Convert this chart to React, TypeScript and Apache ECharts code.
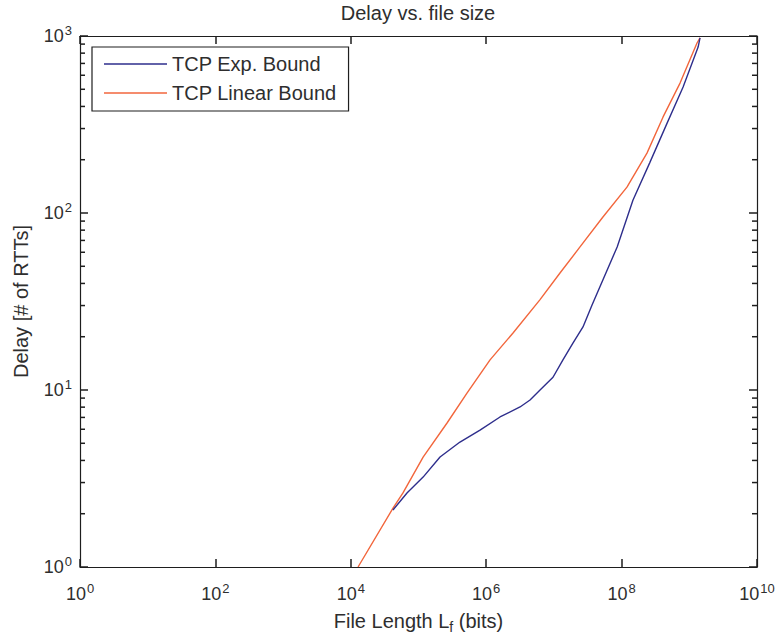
import React, { useEffect, useRef } from "react";
import * as echarts from "echarts";

const chartTitle = "Delay vs. file size";
const seriesNames = ["TCP Exp. Bound", "TCP Linear Bound"];

const expLength = [4.2e4, 6.76e4, 1.17e5, 2.08e5, 4.1e5, 8.1e5, 1.6e6, 3.16e6, 4.44e6, 6.24e6, 9.7e6, 1.36e7, 1.91e7, 2.69e7, 3.66e7, 8.6e7, 1.47e8, 2.6e8, 4.7e8, 8.1e8, 1.35e9, 1.44e9];
const expDelay = [2.1, 2.62, 3.22, 4.18, 5.08, 5.94, 7.04, 8.02, 8.78, 10.0, 11.8, 14.8, 18.4, 22.7, 30.2, 64.3, 118, 192, 322, 515, 866, 975];

const linLength = [1.28e4, 4.2e4, 5.9e4, 1.17e5, 2.64e5, 5.2e5, 1.14e6, 2.49e6, 6.2e6, 1.23e7, 2.43e7, 5.3e7, 1.2e8, 2.37e8, 4.1e8, 7.3e8, 1.3e9, 1.44e9];
const linDelay = [1.0, 2.15, 2.62, 4.18, 6.51, 9.6, 14.8, 21.0, 32.3, 45.8, 64.3, 94.9, 140, 218, 349, 542, 913, 975];

const xRange = [1, 1e10];
const yRange = [1, 1000];
const yMinorTicks = [2, 3, 4, 5, 6, 7, 8, 9, 20, 30, 40, 50, 60, 70, 80, 90, 200, 300, 400, 500, 600, 700, 800, 900];

const FONT = "'Liberation Sans', Arial, Helvetica, sans-serif";
const TEXT = "#2e2e2e";
const AXIS = "#1e1e1e";
const BLUE = "#2e2e8c";
const ORANGE = "#f2663c";

const powLabel = (v: number) => `{b|10}{s|${Math.round(Math.log10(v))}}`;
const labelRich = {
  b: { fontSize: 18, lineHeight: 24, fontFamily: FONT, color: TEXT },
  s: { fontSize: 13, lineHeight: 13, verticalAlign: "top", fontFamily: FONT, color: TEXT, padding: [0, 0, 2, 1] },
};

export default function App() {
  const ref = useRef<HTMLDivElement>(null);
  useEffect(() => {
    if (!ref.current) return;
    const chart = echarts.init(ref.current, undefined, { renderer: "svg" });
    const axisCommon = {
      axisLine: { show: true, lineStyle: { color: AXIS, width: 1.2 } },
      splitLine: { show: false },
      minorTick: { show: false },
    };
    const tick = { show: true, inside: true, length: 8, lineStyle: { color: AXIS, width: 1.5 } };
    const minorTickSeries = (xVal: number, offset: number) => ({
      type: "scatter",
      silent: true,
      clip: false,
      xAxisIndex: 0,
      yAxisIndex: 0,
      z: 5,
      symbol: "rect",
      symbolSize: [5, 1.5],
      symbolOffset: [offset, 0],
      itemStyle: { color: AXIS, opacity: 1 },
      data: yMinorTicks.map((v) => [xVal, v]),
    });
    chart.setOption({
      animation: false,
      backgroundColor: "#ffffff",
      title: {
        text: chartTitle,
        left: 418,
        top: 3,
        padding: 0,
        textAlign: "center",
        textStyle: { fontSize: 20, fontWeight: "normal", fontFamily: FONT, color: TEXT },
      },
      legend: {
        data: seriesNames,
        orient: "vertical",
        left: 92,
        top: 47,
        padding: [7, 12, 8, 12],
        itemGap: 9,
        itemWidth: 63,
        itemHeight: 1.5,
        icon: "rect",
        borderColor: AXIS,
        borderWidth: 1.2,
        borderRadius: 0,
        backgroundColor: "#ffffff",
        selectedMode: false,
        textStyle: { fontSize: 20, lineHeight: 20, fontFamily: FONT, color: TEXT, padding: [0, 0, 0, 0] },
      },
      grid: { left: 80, top: 36, width: 677, height: 531, containLabel: false },
      xAxis: [
        {
          ...axisCommon,
          type: "log",
          logBase: 10,
          min: xRange[0],
          max: xRange[1],
          interval: 2,
          position: "bottom",
          axisTick: tick,
          axisLabel: { show: true, margin: 15, formatter: powLabel, rich: labelRich },
          name: "File Length L{sub|f} (bits)",
          nameLocation: "middle",
          nameGap: 40,
          nameTextStyle: {
            fontSize: 20,
            lineHeight: 26,
            fontFamily: FONT,
            color: TEXT,
            rich: { sub: { fontSize: 14, lineHeight: 14, verticalAlign: "bottom", fontFamily: FONT, color: TEXT, padding: [3, 0, 0, 0] } },
          },
        },
        {
          ...axisCommon,
          type: "log",
          logBase: 10,
          min: xRange[0],
          max: xRange[1],
          interval: 2,
          position: "top",
          axisTick: tick,
          axisLabel: { show: false },
        },
      ],
      yAxis: [
        {
          ...axisCommon,
          type: "log",
          logBase: 10,
          min: yRange[0],
          max: yRange[1],
          interval: 1,
          position: "left",
          axisTick: tick,
          axisLabel: { show: true, margin: 8, formatter: powLabel, rich: labelRich },
          name: "Delay [# of RTTs]",
          nameLocation: "middle",
          nameGap: 49,
          nameTextStyle: { fontSize: 20, fontFamily: FONT, color: TEXT },
        },
        {
          ...axisCommon,
          type: "log",
          logBase: 10,
          min: yRange[0],
          max: yRange[1],
          interval: 1,
          position: "right",
          axisTick: tick,
          axisLabel: { show: false },
        },
      ],
      series: [
        minorTickSeries(xRange[0], 2.5),
        minorTickSeries(xRange[1], -2.5),
        {
          name: seriesNames[0],
          type: "line",
          symbol: "none",
          z: 3,
          color: BLUE,
          lineStyle: { color: BLUE, width: 1.4 },
          data: expLength.map((x, i) => [x, expDelay[i]]),
        },
        {
          name: seriesNames[1],
          type: "line",
          symbol: "none",
          z: 2,
          color: ORANGE,
          lineStyle: { color: ORANGE, width: 1.4 },
          data: linLength.map((x, i) => [x, linDelay[i]]),
        },
      ],
    });
    return () => chart.dispose();
  }, []);
  return (
    <div
      ref={ref}
      style={{ position: "absolute", left: 0, top: 0, width: 779, height: 642, background: "#fff" }}
    />
  );
}
